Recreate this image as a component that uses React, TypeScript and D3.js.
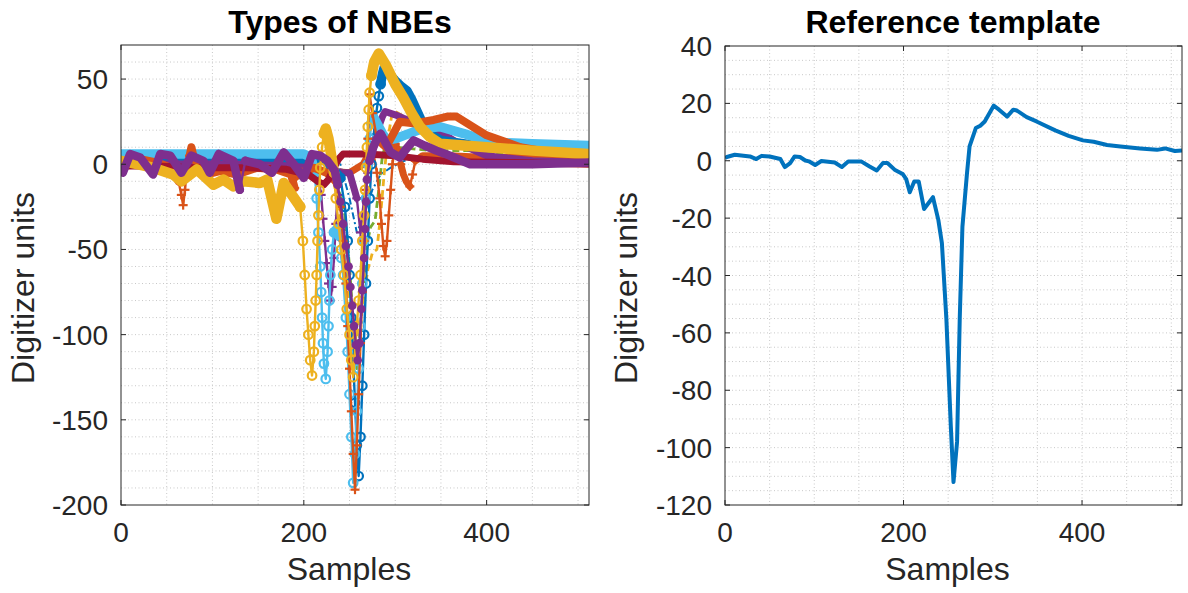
import React from 'react';
import * as d3 from 'd3';

type Pt = [number, number];

// ---------- data ----------
const xTicks = [0, 200, 400];
const leftYTicks = [-200, -150, -100, -50, 0, 50];
const rightYTicks = [-120, -100, -80, -60, -40, -20, 0, 20, 40];

const blueDashDot: Pt[] = [[0,5],[100,5],[200,5],[240,0],[250,-20],[258,-40],[266,-30],[275,-15],[284,-6],[295,-2],[310,2],[327,4],[400,4],[512,5]];
const greenDashed: Pt[] = [[0,3],[100,1],[200,-2],[235,-8],[245,-30],[250,-60],[255,-100],[258,-120],[262,-95],[266,-65],[270,-45],[273,-37],[278,-33],[282,-15],[286,5],[290,12],[300,10],[340,8],[382,8],[420,6],[512,4]];
const yellowDashed: Pt[] = [[0,2],[150,-2],[230,-5],[237,-20],[243,-45],[248,-70],[252,-95],[256,-110],[260,-95],[265,-80],[270,-62],[275,-52],[280,-50],[284,-30],[288,-5],[292,15],[296,28],[300,31],[310,28],[330,20],[360,12],[400,8],[512,6]];
const orangePlus2: Pt[] = [[0,0],[100,-2],[200,-3],[250,-5],[265,0],[275,10],[280,-5],[283,-20],[285,-35],[287,-48],[289,-54],[291,-45],[293,-30],[295,-15],[297,0],[300,12],[303,8],[306,0],[309,-6],[312,-10],[316,-13],[319,-6],[322,2],[330,5],[360,5],[400,4],[512,4]];
const purplePlus: Pt[] = [[0,1],[100,1],[200,0],[215,-5],[219,-18],[221,-32],[223,-45],[225,-58],[227,-70],[229,-80],[231,-72],[233,-55],[235,-35],[237,-18],[240,-5],[250,-5],[258,-20],[262,-40],[266,-20],[270,-5],[274,5],[278,15],[282,22],[286,28],[289,31],[300,29],[309,27],[330,23],[349,19],[370,12],[400,5],[450,2],[512,1]];
const blueCircles: Pt[] = [[0,5],[60,5],[120,5],[180,4],[225,2],[240,-8],[245,-25],[248,-45],[250,-65],[252,-90],[254,-115],[256,-140],[258,-165],[260,-183],[262,-160],[264,-130],[266,-100],[268,-70],[270,-45],[272,-20],[274,0],[276,15],[278,25],[280,33],[282,40],[284,47],[286,53],[288,57],[291,55],[295,52],[300,49],[306,46],[313,43],[318,38],[324,31],[330,24],[337,18],[350,14],[400,10],[450,9],[512,8]];
const lightBlueCircles: Pt[] = [[0,6],[50,6],[100,6],[150,6],[200,6],[208,4],[212,-5],[214,-20],[216,-40],[218,-60],[219,-75],[220,-90],[221,-105],[222,-117],[224,-126],[226,-110],[227,-95],[228,-80],[229,-65],[231,-50],[233,-40],[236,-38],[239,-42],[241,-55],[243,-65],[246,-90],[248,-110],[250,-135],[252,-160],[254,-187],[256,-170],[258,-145],[260,-120],[262,-95],[264,-70],[266,-45],[268,-20],[270,0],[272,15],[274,24],[276,28],[280,24],[286,18],[291,14],[300,15],[315,18],[330,21],[349,22],[375,18],[404,13],[450,12],[512,11]];
const orangePlus1: Pt[] = [[0,2],[21,3],[40,1],[54,-2],[60,-4],[63,-10],[66,-18],[68,-24],[70,-15],[72,-3],[75,5],[77,10],[80,3],[94,-6],[108,-4],[127,-6],[149,-2],[170,-3],[186,-6],[190,-14],[192,-7],[211,-2],[225,-5],[235,-10],[240,-25],[243,-45],[246,-70],[248,-95],[250,-120],[252,-145],[254,-170],[256,-191],[258,-165],[260,-135],[262,-105],[264,-75],[266,-45],[268,-15],[270,15],[272,41],[275,30],[280,15],[290,10],[298,18],[305,25],[320,24],[342,26],[357,28],[367,28],[385,22],[400,17],[437,10],[470,7],[512,5]];
const darkRedLine: Pt[] = [[0,-1],[40,-1],[80,-2],[138,-2],[181,-3],[205,-6],[215,-10],[222,-12],[227,-9],[232,-3],[238,3],[243,6],[254,6],[268,6],[300,5],[330,3],[364,1.4],[430,1],[512,0]];
const yellowCircles: Pt[] = [[0,2],[10,1],[35,-2],[57,-6],[66,-10],[83,-3],[101,-12],[112,-9],[123,-13],[134,-10],[152,-11],[160,-9],[170,-32],[178,-11],[196,-25],[199,-45],[201,-65],[203,-85],[205,-100],[207,-115],[209,-124],[211,-110],[212,-95],[213,-80],[214,-65],[215,-45],[216,-30],[217,-15],[218,-2],[220,10],[222,18],[224,21],[227,15],[230,5],[233,-5],[235,-20],[238,-35],[241,-50],[244,-65],[247,-85],[250,-100],[252,-115],[254,-125],[256,-110],[258,-95],[260,-80],[262,-65],[264,-45],[266,-30],[267,-15],[268,-2],[269,10],[270,22],[271,32],[272,42],[274,52],[277,60],[282,65],[290,58],[300,47],[309,39],[318,30],[327,22],[338,16],[349,12],[375,11],[400,10],[450,8],[512,6]];
const purpleDots: Pt[] = [[0,-2],[2,-5],[10,6],[21,4],[35,-6],[43,6],[54,5],[66,-5],[77,5],[90,2],[97,-5],[107,6],[123,2],[130,-15],[136,2],[152,0],[165,-5],[178,7],[189,0],[200,-8],[209,6],[218,5],[226,2],[234,-4],[237,-12],[240,-22],[243,-35],[246,-48],[249,-60],[251,-72],[253,-83],[255,-95],[257,-106],[259,-115],[261,-105],[263,-85],[264,-74],[266,-55],[267,-38],[268,-22],[269,-9],[272,2],[276,10],[280,15],[284,18],[290,12],[295,7],[305,4],[312,9],[320,14],[332,11],[345,8],[360,5],[382,0],[420,0],[450,0],[512,1]];

const templateSamples = [0,2,11,28,35,41,50,62,67,73,78,84,90,94,101,108,123,131,138,153,162,170,177,182,190,199,203,207,212,217,223,233,239,243,248,253,256,260,263,266,271,274,281,286,291,301,307,316,323,327,338,349,370,385,401,413,428,443,465,484,493,504,512];
const templateValues = [1.0,1.3,2.1,1.5,0.6,1.7,1.5,0.6,-2.2,-0.8,1.5,1.3,0.1,-0.2,-1.5,-0.1,-0.6,-2.2,-0.3,-0.3,-2,-3.4,-0.8,-0.8,-3.1,-4.6,-6.4,-11,-7.2,-7.2,-16.8,-12.7,-20.6,-28.7,-55,-92.6,-112,-98,-55,-23,-4.8,5,11.4,12.2,13.7,19.2,17.8,15.4,17.8,17.5,15.2,13.7,10.6,8.7,7.1,6.6,5.5,5,4.3,3.8,4.3,3.4,3.6];

// ---------- styles ----------
type Style = { color: string; lw: number; dash?: string; band?: number; marker?: 'o' | '+' | '.' };
const seriesList: { pts: Pt[]; st: Style }[] = [
  { pts: blueDashDot, st: { color: '#0072BD', lw: 2, dash: '7,3,2,3' } },
  { pts: greenDashed, st: { color: '#77AC30', lw: 2.8, dash: '7,4' } },
  { pts: yellowDashed, st: { color: '#EDB120', lw: 2.8, dash: '7,4' } },
  { pts: orangePlus2, st: { color: '#D95319', lw: 2.4, band: 7, marker: '+' } },
  { pts: purplePlus, st: { color: '#7E2F8E', lw: 2.4, band: 7, marker: '+' } },
  { pts: blueCircles, st: { color: '#0072BD', lw: 2.4, band: 9.5, marker: 'o' } },
  { pts: lightBlueCircles, st: { color: '#4DBEEE', lw: 2.4, band: 9.5, marker: 'o' } },
  { pts: orangePlus1, st: { color: '#D95319', lw: 2.4, band: 8, marker: '+' } },
  { pts: darkRedLine, st: { color: '#A2142F', lw: 2.4, band: 7 } },
  { pts: yellowCircles, st: { color: '#EDB120', lw: 2.4, band: 10.5, marker: 'o' } },
  { pts: purpleDots, st: { color: '#7E2F8E', lw: 2.4, band: 8.5, marker: '.' } },
];

const FONT = "'Liberation Sans', Arial, Helvetica, sans-serif";
const AX = '#262626';
const GRID = '#c8c8c8';

function Marker({ x, y, type, color }: { x: number; y: number; type: string; color: string }) {
  if (type === 'o') return <circle cx={x} cy={y} r={4.3} fill="none" stroke={color} strokeWidth={2.2} />;
  if (type === '.') return <circle cx={x} cy={y} r={4.3} fill={color} />;
  return (
    <g stroke={color} strokeWidth={2.2}>
      <line x1={x - 4.5} x2={x + 4.5} y1={y} y2={y} />
      <line x1={x} x2={x} y1={y - 4.5} y2={y + 4.5} />
    </g>
  );
}

function Series({ pts, st, xs, ys }: { pts: Pt[]; st: Style; xs: any; ys: any }) {
  const P: [number, number][] = pts.map(([s, v]) => [xs(s), ys(v)]);
  const line = d3.line();
  const out: React.ReactNode[] = [];
  out.push(
    <path key="thin" d={line(P) || ''} fill="none" stroke={st.color} strokeWidth={st.lw}
      strokeDasharray={st.dash} strokeLinejoin="round" />
  );
  if (st.band) {
    const steep: boolean[] = [];
    for (let i = 0; i < P.length - 1; i++) {
      const ds = Math.max(1, pts[i + 1][0] - pts[i][0]);
      const step = Math.abs(P[i + 1][1] - P[i][1]) / ds;
      steep.push(step > st.band * 0.55);
    }
    const groups: [number, number][][] = [];
    let cur: [number, number][] | null = null;
    for (let i = 0; i < P.length - 1; i++) {
      if (!steep[i]) {
        if (!cur) { cur = [P[i]]; groups.push(cur); }
        cur.push(P[i + 1]);
      } else cur = null;
    }
    groups.forEach((g, k) =>
      out.push(<path key={'b' + k} d={line(g) || ''} fill="none" stroke={st.color} strokeWidth={st.band}
        strokeLinecap="round" strokeLinejoin="round" />)
    );
    if (st.marker) {
      P.forEach((p, i) => {
        const adj = (i > 0 && steep[i - 1]) || (i < P.length - 1 && steep[i]);
        if (adj) out.push(<Marker key={'m' + i} x={p[0]} y={p[1]} type={st.marker!} color={st.color} />);
      });
    }
  }
  return <g>{out}</g>;
}

function Frame({ xs, ys, yTicks, yMinor, id, children, title, titleX, ylabelX }: any) {
  const [x0, x1] = xs.range();
  const [y1, y0] = ys.range();
  const xMinor = d3.range(0, 513, 50);
  return (
    <g>
      <rect x={x0} y={y0} width={x1 - x0} height={y1 - y0} fill="#fff" />
      <g stroke={GRID} strokeWidth={1} strokeDasharray="1,2.5">
        {xMinor.filter((t) => t > 0 && t < 512).map((t) => (
          <line key={'gx' + t} x1={xs(t)} x2={xs(t)} y1={y0} y2={y1} />
        ))}
        {yMinor.filter((t: number) => ys(t) > y0 + 0.5 && ys(t) < y1 - 0.5).map((t: number) => (
          <line key={'gy' + t} x1={x0} x2={x1} y1={ys(t)} y2={ys(t)} />
        ))}
      </g>
      <defs>
        <clipPath id={id}>
          <rect x={x0} y={y0} width={x1 - x0} height={y1 - y0} />
        </clipPath>
      </defs>
      <g clipPath={`url(#${id})`}>{children}</g>
      <rect x={x0} y={y0} width={x1 - x0} height={y1 - y0} fill="none" stroke={AX} strokeWidth={1} />
      <g stroke={AX} strokeWidth={1}>
        {xTicks.map((t) => (
          <g key={'tx' + t}>
            <line x1={xs(t)} x2={xs(t)} y1={y1} y2={y1 - 5} />
            <line x1={xs(t)} x2={xs(t)} y1={y0} y2={y0 + 5} />
          </g>
        ))}
        {yTicks.map((t: number) => (
          <g key={'ty' + t}>
            <line x1={x0} x2={x0 + 5} y1={ys(t)} y2={ys(t)} />
            <line x1={x1} x2={x1 - 5} y1={ys(t)} y2={ys(t)} />
          </g>
        ))}
      </g>
      <g fontFamily={FONT} fontSize={28} fill={AX}>
        {xTicks.map((t) => (
          <text key={'lx' + t} x={xs(t)} y={542} textAnchor="middle">{t}</text>
        ))}
        {yTicks.map((t: number) => (
          <text key={'ly' + t} x={x0 - 13} y={ys(t) + 10} textAnchor="end">{t}</text>
        ))}
      </g>
      <text x={(x0 + x1) / 2 - 6} y={580} textAnchor="middle" fontFamily={FONT} fontSize={32} fill={AX}>Samples</text>
      <text transform={`translate(${ylabelX},288) rotate(-90)`} textAnchor="middle"
        fontFamily={FONT} fontSize={32} fill={AX}>Digitizer units</text>
      <text x={titleX} y={33} textAnchor="middle" fontFamily={FONT} fontSize={32} fontWeight="bold" fill="#000">{title}</text>
    </g>
  );
}

export default function App() {
  const xsL = d3.scaleLinear().domain([0, 512]).range([121, 589]);
  const ysL = d3.scaleLinear().domain([-200, 70]).range([505, 45]);
  const xsR = d3.scaleLinear().domain([0, 512]).range([725, 1182]);
  const ysR = d3.scaleLinear().domain([-120, 40]).range([505, 46]);
  const tplPts: [number, number][] = templateSamples.map((s, i) => [xsR(s), ysR(templateValues[i])]);
  const tplPath = d3.line()(tplPts) || '';
  return (
    <svg width={1188} height={593} style={{ position: 'fixed', left: 0, top: 0, background: '#fff' }}>
      <rect width={1188} height={593} fill="#fff" />
      <Frame xs={xsL} ys={ysL} yTicks={leftYTicks} yMinor={d3.range(-200, 71, 10)} id="clipL"
        title="Types of NBEs" titleX={340} ylabelX={34}>
        {seriesList.map((s, i) => <Series key={i} pts={s.pts} st={s.st} xs={xsL} ys={ysL} />)}
      </Frame>
      <Frame xs={xsR} ys={ysR} yTicks={rightYTicks} yMinor={d3.range(-120, 41, 5)} id="clipR"
        title="Reference template" titleX={953} ylabelX={637}>
        <path d={tplPath} fill="none" stroke="#0072BD" strokeWidth={4} strokeLinejoin="round" />
      </Frame>
    </svg>
  );
}
